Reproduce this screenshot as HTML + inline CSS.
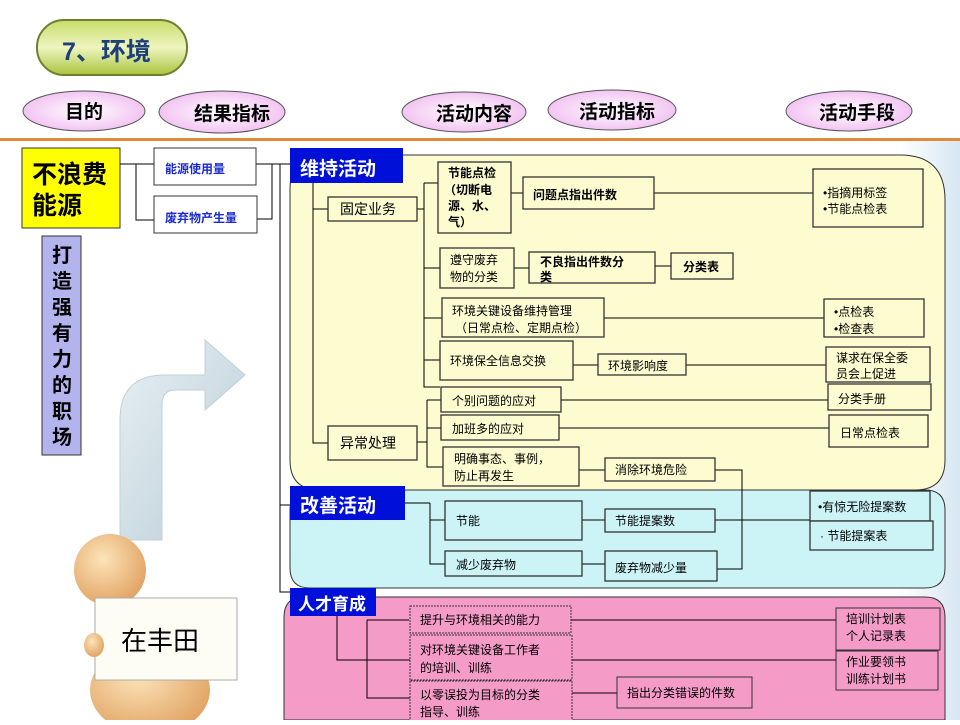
<!DOCTYPE html>
<html><head><meta charset="utf-8"><style>
html,body{margin:0;padding:0;background:#fff}
svg text{font-family:"Liberation Sans","Noto Sans CJK SC",sans-serif}
</style></head><body>
<svg width="960" height="720" viewBox="0 0 960 720" xmlns="http://www.w3.org/2000/svg">
<defs>
<linearGradient id="bgR" x1="0" x2="1"><stop offset="0" stop-color="#fff"/><stop offset="1" stop-color="#d6e6f2"/></linearGradient>
<linearGradient id="pill" x1="0" y1="0" x2="0" y2="1"><stop offset="0" stop-color="#c8dc6a"/><stop offset="0.5" stop-color="#eef5c0"/><stop offset="1" stop-color="#a9c43c"/></linearGradient>
<radialGradient id="ell" cx="0.5" cy="0.5" r="0.6"><stop offset="0" stop-color="#fff"/><stop offset="1" stop-color="#f0b8f0"/></radialGradient>
<linearGradient id="arr" x1="0" y1="0" x2="1" y2="1"><stop offset="0" stop-color="#e8f0f4"/><stop offset="1" stop-color="#b8ccd6"/></linearGradient>
<radialGradient id="skin" cx="0.4" cy="0.35" r="0.7"><stop offset="0" stop-color="#fce4b8"/><stop offset="1" stop-color="#e0a060"/></radialGradient>
</defs>
<rect x="900" y="140" width="60" height="580" fill="url(#bgR)"/>
<rect x="37" y="20" width="150" height="55" rx="27" fill="url(#pill)" stroke="#6f7f30" stroke-width="2"/>
<text x="62" y="60" font-size="25" font-weight="bold" fill="#1f3f7a">7、环境</text>
<g stroke="#555" stroke-width="1">
<ellipse cx="84" cy="111" rx="61" ry="20" fill="url(#ell)"/>
<ellipse cx="222" cy="112" rx="63" ry="21" fill="url(#ell)"/>
<ellipse cx="464" cy="112" rx="62" ry="20" fill="url(#ell)"/>
<ellipse cx="612" cy="110" rx="64" ry="20" fill="url(#ell)"/>
<ellipse cx="849" cy="111" rx="63" ry="20" fill="url(#ell)"/>
</g>
<g font-size="19" font-weight="bold" fill="#000" text-anchor="middle">
<text x="84" y="118">目的</text><text x="232" y="120">结果指标</text><text x="474" y="120">活动内容</text><text x="617" y="118">活动指标</text><text x="857" y="119">活动手段</text>
</g>
<rect x="0" y="138" width="960" height="3" fill="#e08a3a"/>
<path d="M320 155 H900 Q945 155 945 200 V460 Q945 490 915 490 H320 Q290 490 290 460 V190 Q290 155 320 155Z" fill="#fdfbd0" stroke="#333"/>
<path d="M310 490 H925 Q945 490 945 510 V568 Q945 588 925 588 H310 Q290 588 290 568 V510 Q290 490 310 490Z" fill="#ccf4f6" stroke="#333"/>
<path d="M304 597 H925 Q945 597 945 617 V720 H284 V617 Q284 597 304 597Z" fill="#f59bc8" stroke="#333"/>
<rect x="22" y="148" width="98" height="80" fill="#ffff00" stroke="#333"/>
<text x="32" y="183" font-size="25" font-weight="bold">不浪费</text>
<text x="32" y="214" font-size="25" font-weight="bold">能源</text>
<rect x="42" y="236" width="39" height="219" fill="#b3b3ee" stroke="#333"/>
<g font-size="20" font-weight="bold" text-anchor="middle">
<text x="62" y="262">打</text><text x="62" y="288">造</text><text x="62" y="314">强</text><text x="62" y="340">有</text><text x="62" y="366">力</text><text x="62" y="392">的</text><text x="62" y="418">职</text><text x="62" y="444">场</text>
</g>
<g stroke="#000" fill="none" stroke-width="1">
<path d="M120 164 H154 M136 164 V220 H154 M256 164 H290 M256 219 H272 V164 M280 164 V592 H290 M272 164 H280 M280 505 H290"/>
</g>
<rect x="154" y="148" width="102" height="37" fill="#fff" stroke="#333"/>
<text x="165" y="173" font-size="12" font-weight="bold" fill="#1a2ad0">能源使用量</text>
<rect x="154" y="196" width="103" height="37" fill="#fff" stroke="#333"/>
<text x="165" y="222" font-size="12" font-weight="bold" fill="#1a2ad0">废弃物产生量</text>
<path d="M120 540 V420 Q120 375 165 375 H205 V340 L245 375 L205 410 V390 H175 Q162 390 162 405 V540Z" fill="url(#arr)" stroke="#c0d0d8"/>
<ellipse cx="110" cy="570" rx="36" ry="36" fill="url(#skin)"/>
<ellipse cx="150" cy="690" rx="60" ry="45" fill="url(#skin)"/>
<rect x="95" y="598" width="142" height="82" fill="#fdfdf6" stroke="#aaa"/>
<text x="121" y="650" font-size="26" fill="#000">在丰田</text>
<ellipse cx="94" cy="645" rx="10" ry="12" fill="url(#skin)"/>
<rect x="290" y="148" width="113" height="35" fill="#0010d8"/>
<text x="300" y="175" font-size="19" font-weight="bold" fill="#fff">维持活动</text>
<rect x="290" y="486" width="115" height="34" fill="#0010d8"/>
<text x="300" y="512" font-size="19" font-weight="bold" fill="#fff">改善活动</text>
<rect x="290" y="588" width="86" height="28" fill="#0010d8"/>
<text x="298" y="610" font-size="17" font-weight="bold" fill="#fff">人才育成</text>
<g stroke="#000" fill="none" stroke-width="1">
<path d="M313 183 V443 H328 M313 209 H328 M417 209 H424 M424 183 V387 H440 M424 183 H438 M424 268 H440 M424 318 H442 M424 360 H440"/>
<path d="M511 193 H523 M654 193 H813 M514 268 H529 M655 266 H671 M604 318 H824 M573 365 H598 M686 365 H826"/>
<path d="M417 442 H427 M427 400 V467 H443 M427 400 H441 M427 428 H441 M561 400 H828 M559 428 H829 M579 470 H605 M715 470 H742 V569 H717"/>
<path d="M405 503 H430 M430 503 V564 H445 M430 520 H445 M582 520 H605 M715 520 H810 M582 564 H605"/>
<path d="M337 616 V660 H410 M367 620 H409 M367 620 V698 H410 M570 620 H836 M572 660 H836 M572 693 H617"/>
</g>
<g fill="#fdfbd0" stroke="#333" stroke-width="1.3">
<rect x="328" y="197" width="89" height="24"/>
<rect x="438" y="162" width="73" height="71"/>
<rect x="523" y="177" width="131" height="32"/>
<rect x="813" y="169" width="110" height="58"/>
<rect x="440" y="248" width="74" height="40"/>
<rect x="529" y="252" width="126" height="31"/>
<rect x="671" y="253" width="62" height="26"/>
<rect x="442" y="298" width="162" height="39"/>
<rect x="824" y="299" width="100" height="38"/>
<rect x="440" y="341" width="133" height="39"/>
<rect x="598" y="354" width="88" height="21"/>
<rect x="826" y="347" width="104" height="35"/>
<rect x="441" y="387" width="120" height="25"/>
<rect x="828" y="384" width="103" height="26"/>
<rect x="441" y="415" width="118" height="25"/>
<rect x="829" y="415" width="99" height="32"/>
<rect x="328" y="426" width="89" height="34"/>
<rect x="443" y="447" width="136" height="39"/>
<rect x="605" y="458" width="110" height="23"/>
</g>
<g fill="#ccf4f6" stroke="#333" stroke-width="1.3">
<rect x="445" y="501" width="137" height="39"/>
<rect x="605" y="509" width="110" height="23"/>
<rect x="445" y="551" width="137" height="25"/>
<rect x="605" y="551" width="112" height="30"/>
<rect x="810" y="491" width="120" height="30"/>
<rect x="810" y="521" width="123" height="29"/>
</g>
<g fill="#f59bc8" stroke="#333" stroke-width="1">
<rect x="410" y="606" width="161" height="27" stroke-dasharray="2 1"/>
<rect x="410" y="635" width="162" height="45" stroke-dasharray="2 1"/>
<rect x="410" y="681" width="162" height="40" stroke-dasharray="2 1"/>
<rect x="617" y="677" width="135" height="31"/>
<rect x="836" y="608" width="104" height="42"/>
<rect x="836" y="651" width="102" height="39"/>
</g>
<g font-size="12" fill="#000">
<text x="340" y="214" font-size="14">固定业务</text>
<g font-weight="bold"><text x="448" y="177">节能点检</text><text x="444" y="194">（切断电</text><text x="448" y="210">源、水、</text><text x="448" y="226">气）</text>
<text x="533" y="199">问题点指出件数</text>
<text x="540" y="266">不良指出件数分</text><text x="540" y="281">类</text>
<text x="683" y="271">分类表</text></g>
<text x="823" y="197">•指摘用标签</text><text x="823" y="213">•节能点检表</text>
<text x="450" y="264">遵守废弃</text><text x="450" y="281">物的分类</text>
<text x="452" y="315">环境关键设备维持管理</text><text x="455" y="332">（日常点检、定期点检）</text>
<text x="834" y="316">•点检表</text><text x="834" y="333">•检查表</text>
<text x="450" y="365">环境保全信息交换</text>
<text x="608" y="370">环境影响度</text>
<text x="836" y="362">谋求在保全委</text><text x="836" y="378">员会上促进</text>
<text x="452" y="405">个别问题的应对</text>
<text x="838" y="403">分类手册</text>
<text x="452" y="433">加班多的应对</text>
<text x="840" y="437">日常点检表</text>
<text x="340" y="448" font-size="14">异常处理</text>
<text x="454" y="463">明确事态、事例，</text><text x="454" y="480">防止再发生</text>
<text x="615" y="474">消除环境危险</text>
<text x="456" y="525">节能</text>
<text x="615" y="525">节能提案数</text>
<text x="456" y="569">减少废弃物</text>
<text x="615" y="572">废弃物减少量</text>
<text x="818" y="511">•有惊无险提案数</text>
<text x="820" y="540">· 节能提案表</text>
<text x="420" y="624">提升与环境相关的能力</text>
<text x="420" y="654">对环境关键设备工作者</text><text x="420" y="672">的培训、训练</text>
<text x="420" y="699">以零误投为目标的分类</text><text x="420" y="716">指导、训练</text>
<text x="627" y="697">指出分类错误的件数</text>
<text x="846" y="623">培训计划表</text><text x="846" y="640">个人记录表</text>
<text x="846" y="666">作业要领书</text><text x="846" y="683">训练计划书</text>
</g>
</svg>
</body></html>
